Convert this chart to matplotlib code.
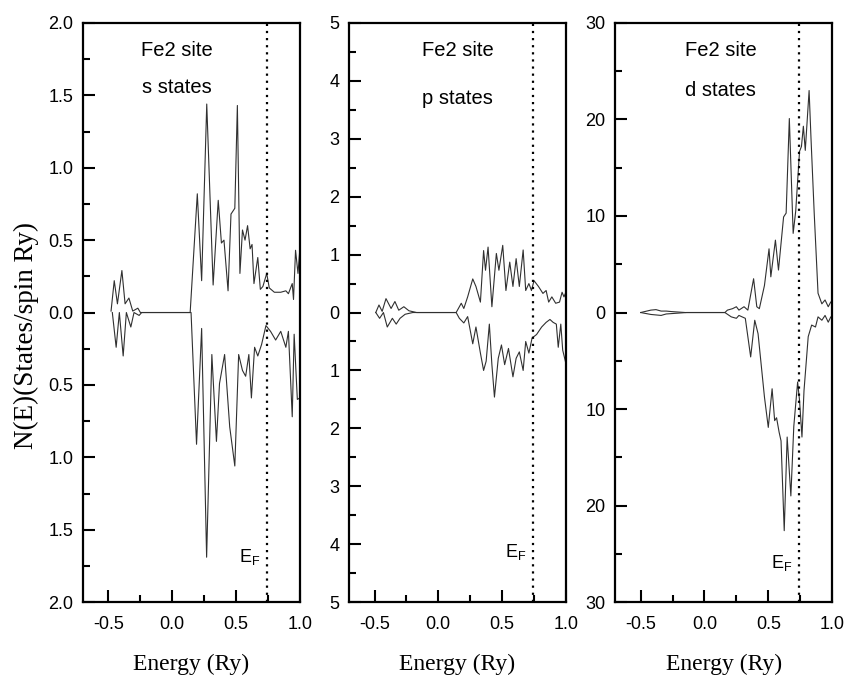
import numpy as np
import matplotlib
matplotlib.use("Agg")
from matplotlib import pyplot as plt
from matplotlib.ticker import MultipleLocator, FuncFormatter

# Fe2 site, s states (energy in Ry, N(E) in states/spin Ry)
s_up_e = [-0.48, -0.455, -0.43, -0.395, -0.37, -0.34, -0.31, -0.27, -0.25, 0.14, 0.196, 0.23, 0.27,
          0.32, 0.36, 0.385, 0.405, 0.437, 0.46, 0.49, 0.51, 0.53, 0.55, 0.57, 0.59, 0.61, 0.625, 0.64,
          0.67, 0.69, 0.71, 0.74, 0.76, 0.80, 0.85, 0.89, 0.91, 0.94, 0.95, 0.966, 0.985, 1.0]
s_up = [0.01, 0.22, 0.06, 0.29, 0.06, 0.10, 0.01, 0.03, 0.0, 0.0, 0.82, 0.22, 1.44,
        0.19, 0.775, 0.48, 0.50, 0.15, 0.68, 0.72, 1.43, 0.27, 0.57, 0.50, 0.60, 0.44, 0.47, 0.20,
        0.38, 0.16, 0.18, 0.27, 0.17, 0.14, 0.14, 0.15, 0.13, 0.20, 0.09, 0.43, 0.27, 0.44]
s_dn_e = [-0.47, -0.44, -0.415, -0.385, -0.36, -0.325, -0.30, -0.26, -0.24, 0.147, 0.19, 0.23, 0.269,
          0.31, 0.346, 0.37, 0.41, 0.45, 0.49, 0.52, 0.55, 0.575, 0.60, 0.62, 0.645, 0.67, 0.70,
          0.734, 0.77, 0.81, 0.85, 0.89, 0.91, 0.94, 0.955, 0.98, 1.0]
s_dn = [0.0, 0.24, 0.0, 0.30, 0.0, 0.10, 0.0, 0.02, 0.0, 0.0, 0.91, 0.11, 1.69,
        0.29, 0.89, 0.49, 0.29, 0.79, 1.06, 0.29, 0.40, 0.44, 0.29, 0.59, 0.24, 0.30, 0.22,
        0.09, 0.13, 0.19, 0.13, 0.24, 0.13, 0.72, 0.15, 0.60, 0.59]

# p states
p_up_e = [-0.49, -0.465, -0.44, -0.41, -0.37, -0.34, -0.31, -0.27, -0.23, -0.17, 0.14, 0.18, 0.20,
          0.23, 0.27, 0.295, 0.33, 0.355, 0.37, 0.39, 0.42, 0.455, 0.475, 0.505, 0.53, 0.56, 0.585,
          0.61, 0.635, 0.665, 0.685, 0.71, 0.73, 0.75, 0.785, 0.82, 0.845, 0.865, 0.89, 0.92, 0.95,
          0.97, 0.985, 1.0]
p_up = [0.0, 0.13, 0.02, 0.24, 0.07, 0.19, 0.04, 0.10, 0.03, 0.0, 0.0, 0.16, 0.07,
        0.27, 0.58, 0.45, 0.18, 1.07, 0.73, 1.13, 0.10, 1.02, 0.73, 1.16, 0.38, 0.87, 0.45,
        0.93, 0.45, 1.08, 0.38, 0.50, 0.38, 0.55, 0.45, 0.33, 0.38, 0.18, 0.27, 0.16, 0.18,
        0.35, 0.27, 0.35]
p_dn_e = [-0.49, -0.46, -0.43, -0.40, -0.36, -0.33, -0.30, -0.26, -0.20, 0.14, 0.165, 0.20, 0.23,
          0.27, 0.295, 0.33, 0.355, 0.375, 0.40, 0.42, 0.44, 0.47, 0.495, 0.52, 0.55, 0.585, 0.61,
          0.635, 0.665, 0.685, 0.71, 0.735, 0.77, 0.81, 0.845, 0.875, 0.90, 0.925, 0.94, 0.96,
          0.975, 1.0]
p_dn = [0.0, 0.10, 0.0, 0.25, 0.10, 0.20, 0.10, 0.03, 0.0, 0.0, 0.10, 0.18, 0.07,
        0.54, 0.25, 0.70, 1.00, 0.84, 0.20, 0.90, 1.46, 0.79, 0.56, 0.90, 0.62, 1.11, 0.79,
        0.68, 1.00, 0.50, 0.70, 0.44, 0.38, 0.25, 0.17, 0.12, 0.17, 0.20, 0.60, 0.20,
        0.65, 0.88]

# d states
d_up_e = [-0.50, -0.42, -0.38, -0.34, -0.30, -0.26, -0.15, 0.16, 0.18, 0.22, 0.25, 0.27, 0.31,
          0.34, 0.385, 0.41, 0.43, 0.47, 0.506, 0.52, 0.556, 0.58, 0.62, 0.64, 0.665, 0.695,
          0.715, 0.745, 0.76, 0.775, 0.79, 0.82, 0.835, 0.86, 0.89, 0.92, 0.945, 0.97, 0.99, 1.0]
d_up = [0.0, 0.25, 0.30, 0.15, 0.15, 0.10, 0.0, 0.0, 0.25, 0.40, 0.60, 0.25, 0.60,
        0.25, 3.5, 0.6, 0.4, 2.8, 6.6, 3.7, 7.5, 4.4, 9.9, 10.3, 20.1, 8.2,
        10.5, 16.7, 17.2, 19.3, 16.8, 23.0, 18.0, 10.3, 2.0, 0.9, 1.3, 0.6, 1.1, 1.0]
d_dn_e = [-0.50, -0.42, -0.34, -0.30, -0.14, 0.16, 0.21, 0.25, 0.27, 0.32, 0.362, 0.394, 0.42,
          0.47, 0.50, 0.53, 0.55, 0.565, 0.585, 0.60, 0.625, 0.648, 0.677, 0.70, 0.73, 0.745,
          0.764, 0.78, 0.813, 0.84, 0.87, 0.89, 0.92, 0.945, 0.97, 0.99, 1.0]
d_dn = [0.0, 0.2, 0.3, 0.15, 0.0, 0.0, 0.45, 0.6, 0.3, 0.6, 4.6, 0.8, 2.2,
        8.75, 11.9, 7.9, 11.2, 10.9, 12.4, 13.3, 22.6, 12.9, 19.0, 11.8, 7.2, 9.1,
        12.9, 8.1, 2.5, 1.3, 1.5, 0.45, 0.8, 0.3, 1.0, 0.45, 0.5]

labels = ["s states", "p states", "d states"]
ylims = [2.0, 5, 30]
ymajor = [0.5, 1, 10]
yminor = [0.25, 0.5, 5]
yfmt = ["%.1f", "%d", "%d"]
e_fermi = 0.74

ups = [(s_up_e, s_up), (p_up_e, p_up), (d_up_e, d_up)]
dns = [(s_dn_e, s_dn), (p_dn_e, p_dn), (d_dn_e, d_dn)]
lefts = [0.0982, 0.413, 0.728]
text_x = [0.433, 0.5, 0.486]
text_y2 = [0.889, 0.87, 0.884]
ef_y = [0.078, 0.086, 0.068]

plt.rcParams['font.family'] = ['Liberation Sans', 'DejaVu Sans']
plt.rcParams['mathtext.fontset'] = 'custom'
plt.rcParams['mathtext.rm'] = 'Liberation Sans'

fig = plt.figure(figsize=(8.45, 6.75), dpi=100)

for i in range(3):
    ax = fig.add_axes([lefts[i], 0.108, 0.2567, 0.858])
    ax.plot(ups[i][0], ups[i][1], color="#303030", lw=0.8)
    ax.plot(dns[i][0], -np.array(dns[i][1]), color="#303030", lw=0.8)
    ax.axvline(e_fermi, color="black", ls=(0, (1, 2.2)), lw=1.6)
    ax.set_xlim(-0.7, 1.0)
    ax.set_ylim(-ylims[i], ylims[i])
    ax.xaxis.set_major_locator(MultipleLocator(0.5))
    ax.xaxis.set_minor_locator(MultipleLocator(0.25))
    ax.xaxis.set_major_formatter(FuncFormatter(lambda v, p: "%.1f" % v))
    ax.yaxis.set_major_locator(MultipleLocator(ymajor[i]))
    ax.yaxis.set_minor_locator(MultipleLocator(yminor[i]))
    f = yfmt[i]
    ax.yaxis.set_major_formatter(FuncFormatter(lambda v, p, f=f: f % abs(v)))
    ax.tick_params(which="both", direction="in", top=False, right=False, width=1.5,
                   labelsize=13)
    ax.tick_params(axis="x", which="major", length=8.5, pad=10)
    ax.tick_params(axis="y", which="major", length=8.5, pad=7)
    ax.tick_params(which="minor", length=5)
    for sp in ax.spines.values():
        sp.set_linewidth(1.6)
    ax.text(text_x[i], 0.953, "Fe2 site", transform=ax.transAxes, ha="center", va="center",
            fontsize=14.5)
    ax.text(text_x[i], text_y2[i], labels[i], transform=ax.transAxes, ha="center", va="center",
            fontsize=14.5)
    ax.text(e_fermi - 0.05, -ylims[i] + ef_y[i] * 2 * ylims[i], r"$\mathregular{E_F}$",
            ha="right", va="center", fontsize=13)
    ax.set_xlabel("Energy (Ry)", family="Liberation Serif", fontsize=17, labelpad=15)
    if i == 0:
        ax.set_ylabel("N(E)(States/spin Ry)", family="Liberation Serif", fontsize=19.5)
        ax.yaxis.set_label_coords(-0.205, 0.46)

fig.savefig("out.png", dpi=100)
